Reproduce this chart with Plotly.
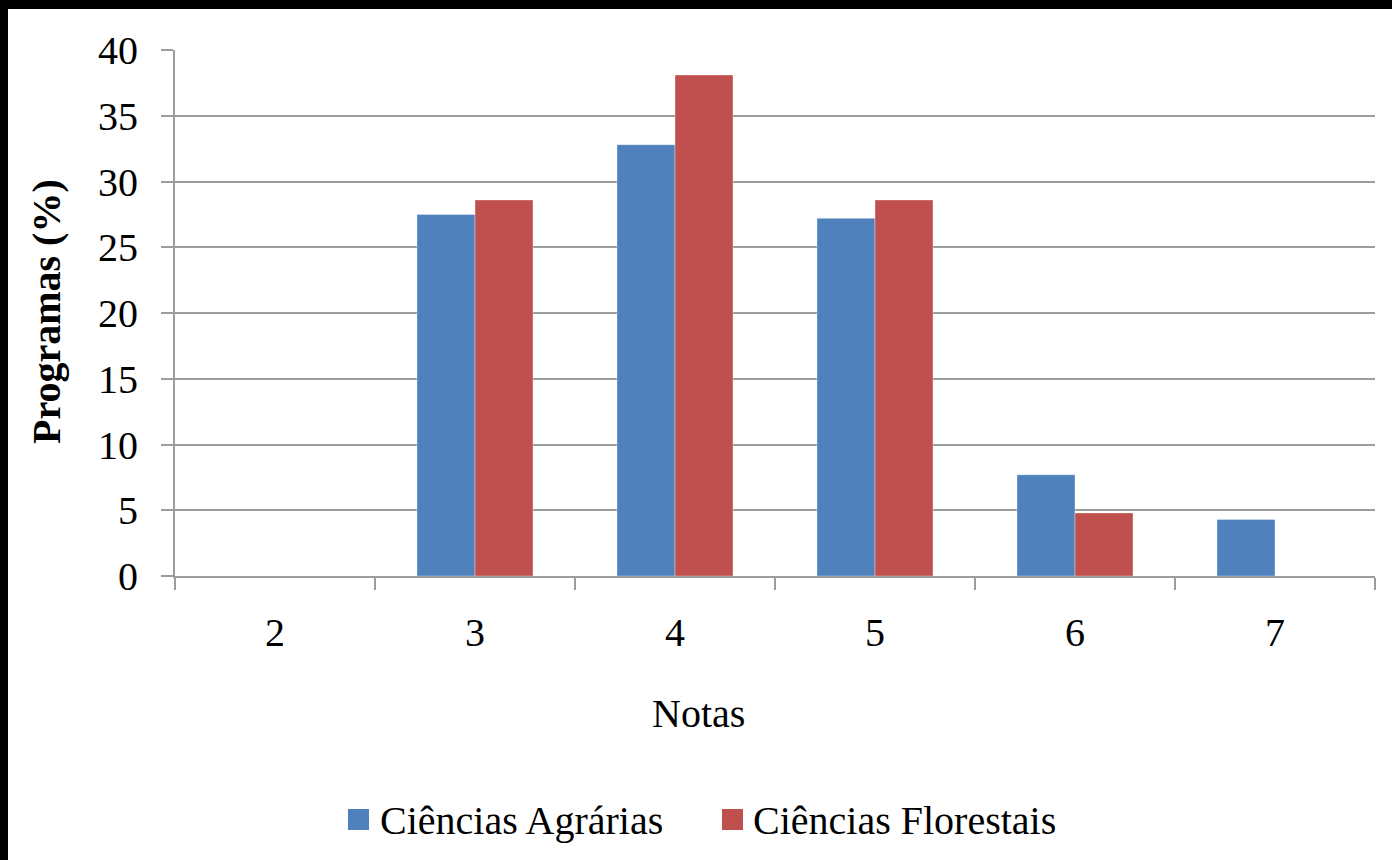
import plotly.graph_objects as go

# Data: share of programmes (%) by score
notas = ["2", "3", "4", "5", "6", "7"]
agrarias = [0, 27.5, 32.8, 27.2, 7.7, 4.3]
florestais = [0, 28.6, 38.1, 28.6, 4.8, 0]
series_names = ["Ciências Agrárias", "Ciências Florestais"]
series_colors = ["#4f81bd", "#c0504d"]
y_ticks = [0, 5, 10, 15, 20, 25, 30, 35, 40]

W, H = 1392, 860
L, R, T, B = 175, 17, 50, 284
FONT = "Liberation Serif, Times New Roman, serif"
FS = 40


def px_x(px):
    return (px - L) / (W - L - R)


def px_y(py):
    return (H - B - py) / (H - T - B)


fig = go.Figure()
for name, vals, col in zip(series_names, [agrarias, florestais], series_colors):
    fig.add_trace(go.Bar(
        x=notas, y=vals, name=name,
        marker=dict(color=col, line=dict(color="rgba(255,255,255,0.35)", width=1)),
        showlegend=False,
    ))

axis_grey = "#9c9c9c"
fig.update_layout(
    width=W, height=H,
    margin=dict(l=L, r=R, t=T, b=B),
    paper_bgcolor="white", plot_bgcolor="white",
    barmode="group", bargap=0.42, bargroupgap=0,
    font=dict(family=FONT, size=FS, color="black"),
    xaxis=dict(
        type="category", showgrid=False,
        showline=True, linecolor=axis_grey, linewidth=2,
        ticks="outside", ticklen=12, tickcolor=axis_grey, tickwidth=2,
        tickson="boundaries", ticklabelstandoff=20,
        tickfont=dict(family=FONT, size=FS, color="black"),
    ),
    yaxis=dict(
        range=[0, 40], tickvals=y_ticks,
        showgrid=True, gridcolor=axis_grey, gridwidth=2,
        showline=True, linecolor=axis_grey, linewidth=2,
        ticks="outside", ticklen=12, tickcolor=axis_grey, tickwidth=2,
        ticklabelstandoff=15, zeroline=False,
        tickfont=dict(family=FONT, size=FS, color="black"),
    ),
)

annotations = [
    dict(text="Notas", x=px_x(698), y=px_y(713), xref="paper", yref="paper",
         showarrow=False, xanchor="center", yanchor="middle",
         font=dict(family=FONT, size=FS, color="black")),
    dict(text="<b>Programas (%)</b>", x=px_x(46), y=px_y(312), xref="paper", yref="paper",
         showarrow=False, xanchor="center", yanchor="middle", textangle=-90,
         font=dict(family=FONT, size=FS, color="black")),
]

# Custom legend: coloured squares followed by series names
legend_items = [(348, 378), (722, 751)]
shapes = []
for (sq_x, txt_x), name, col in zip(legend_items, series_names, series_colors):
    shapes.append(dict(type="rect", xref="paper", yref="paper",
                       x0=px_x(sq_x), x1=px_x(sq_x + 21),
                       y0=px_y(830), y1=px_y(809),
                       fillcolor=col, line=dict(width=0)))
    annotations.append(dict(text=name, x=px_x(txt_x), y=px_y(820), xref="paper", yref="paper",
                            showarrow=False, xanchor="left", yanchor="middle",
                            font=dict(family=FONT, size=FS, color="black")))

# Dark frame along the top and left edges of the page
shapes.append(dict(type="rect", xref="paper", yref="paper",
                   x0=px_x(0), x1=px_x(W), y0=px_y(0), y1=px_y(9),
                   fillcolor="black", line=dict(width=0), layer="above"))
shapes.append(dict(type="rect", xref="paper", yref="paper",
                   x0=px_x(0), x1=px_x(8), y0=px_y(0), y1=px_y(H),
                   fillcolor="black", line=dict(width=0), layer="above"))

fig.update_layout(annotations=annotations, shapes=shapes)
fig.write_html("out.html")
